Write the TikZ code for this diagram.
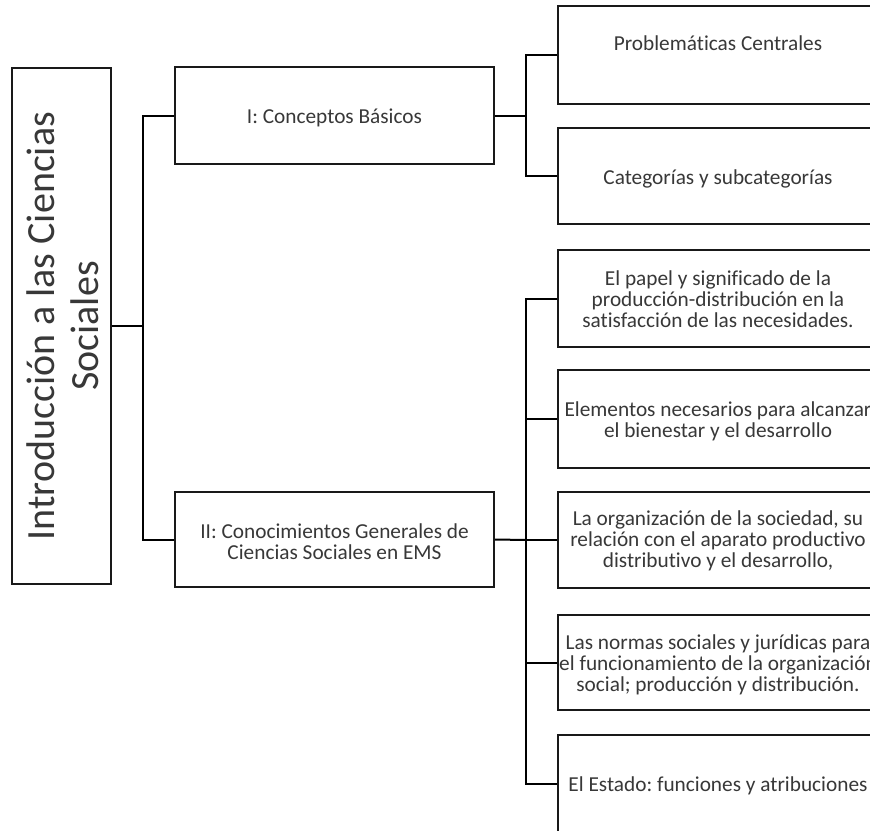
\documentclass[tikz,border=0pt]{standalone}
\usepackage{fontspec}
\setmainfont{Carlito}[Ligatures=NoCommon]
\frenchspacing
\definecolor{textgray}{HTML}{383838}
\begin{document}
\frenchspacing
\begin{tikzpicture}[x=1pt,y=-1pt, line width=2pt, line join=miter,
  box/.style={draw=black!90, rectangle, inner sep=0pt},
  rbox/.style={box, minimum width=320pt},
  txt/.style={text=textgray, align=center, inner sep=0pt,
    font=\fontsize{21.3}{20.9}\selectfont},
  bigtxt/.style={text=textgray, align=center, inner sep=0pt,
    font=\fontsize{40}{44}\selectfont}]
\useasboundingbox (0,0) rectangle (870,830);
\fill[white] (0,0) rectangle (870,830);
\clip (0,0) rectangle (870,830);

% root
\node[box, minimum width=99pt, minimum height=516pt] (r) at (61.5,326) {};
\node[bigtxt, rotate=90] (rt) at (63,326) {Introducción a las Ciencias\\Sociales};

% level 1
\node[box, minimum width=319pt, minimum height=97pt] (a) at (334.5,115.5) {};
\node[txt] (at) at (334.5,118) {I: Conceptos Básicos};
\node[box, minimum width=319pt, minimum height=95pt] (b) at (334.5,539.5) {};
\node[txt] (bt) at (334.5,542) {II: Conocimientos Generales de\\Ciencias Sociales en EMS};

% level 2
\node[rbox, minimum height=98pt] (c1) at (718,55) {};
\node[txt] (c1t) at (718,43) {Problemáticas Centrales};
\node[rbox, minimum height=96pt] (c2) at (718,176) {};
\node[txt] (c2t) at (718,179) {Categorías y subcategorías};
\node[rbox, minimum height=97pt] (c3) at (718,298.5) {};
\node[txt] (c3t) at (718,299) {El papel y significado de la\\producción-distribución en la\\satisfacción de las necesidades.};
\node[rbox, minimum height=98pt] (c4) at (718,419) {};
\node[txt] (c4t) at (718,421) {Elementos necesarios para alcanzar\\el bienestar y el desarrollo};
\node[rbox, minimum height=96pt] (c5) at (718,540) {};
\node[txt] (c5t) at (718,541) {La organización de la sociedad, su\\relación con el aparato productivo\\distributivo y el desarrollo,};
\node[rbox, minimum height=95pt] (c6) at (718,662.5) {};
\node[txt] (c6t) at (718,665) {Las normas sociales y jurídicas para\\el funcionamiento de la organización\\social; producción y distribución.};
\node[rbox, minimum height=98pt] (c7) at (718,784) {};
\node[txt] (c7t) at (718,786) {El Estado: funciones y atribuciones};

% junctions
\coordinate (j0) at (143,326);
\coordinate (j1) at (526,115.5);
\coordinate (j2) at (526,540);

% connectors
\draw (r.east) -- (j0);
\draw (a.west) -| (j0) |- (b.west);
\draw (a.east) -- (j1);
\draw (c1.west) -| (j1) |- (c2.west);
\draw (b.east) -- (j2);
\draw (c3.west) -| (j2) |- (c7.west);
\draw (j2) |- (c4.west);
\draw (j2) -- (c5.west);
\draw (j2) |- (c6.west);
\end{tikzpicture}
\end{document}
